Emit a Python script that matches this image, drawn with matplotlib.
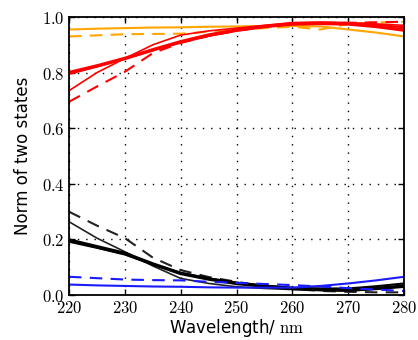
import matplotlib
matplotlib.use("Agg")
import matplotlib.pyplot as plt

wavelength = [220, 225, 230, 235, 240, 245, 250, 255, 260, 265, 270, 275, 280]

orange_solid  = [0.955, 0.958, 0.960, 0.962, 0.963, 0.965, 0.966, 0.968, 0.968, 0.966, 0.955, 0.944, 0.930]
orange_dashed = [0.930, 0.934, 0.938, 0.939, 0.940, 0.947, 0.955, 0.960, 0.965, 0.955, 0.975, 0.980, 0.983]
red_thick     = [0.800, 0.824, 0.851, 0.882, 0.911, 0.935, 0.953, 0.966, 0.975, 0.977, 0.975, 0.966, 0.953]
red_thick2    = [0.795, 0.822, 0.850, 0.880, 0.908, 0.932, 0.951, 0.965, 0.974, 0.978, 0.978, 0.972, 0.963]
red_thin      = [0.735, 0.800, 0.851, 0.900, 0.935, 0.950, 0.960, 0.970, 0.980, 0.982, 0.980, 0.975, 0.970]
red_dashed    = [0.695, 0.750, 0.803, 0.870, 0.907, 0.932, 0.950, 0.965, 0.975, 0.978, 0.979, 0.981, 0.983]
black_dashed  = [0.300, 0.250, 0.205, 0.135, 0.090, 0.065, 0.048, 0.032, 0.022, 0.015, 0.012, 0.010, 0.010]
black_thin    = [0.264, 0.205, 0.156, 0.105, 0.060, 0.042, 0.030, 0.024, 0.020, 0.017, 0.015, 0.022, 0.036]
black_thick   = [0.198, 0.174, 0.150, 0.112, 0.078, 0.058, 0.042, 0.032, 0.024, 0.020, 0.018, 0.024, 0.032]
black_thick2  = [0.192, 0.170, 0.146, 0.110, 0.080, 0.060, 0.045, 0.034, 0.026, 0.024, 0.024, 0.032, 0.042]
blue_solid    = [0.038, 0.035, 0.033, 0.031, 0.030, 0.028, 0.027, 0.027, 0.027, 0.033, 0.042, 0.053, 0.066]
blue_dashed   = [0.066, 0.061, 0.056, 0.054, 0.053, 0.048, 0.044, 0.040, 0.036, 0.031, 0.025, 0.020, 0.015]

x_ticks = [220, 230, 240, 250, 260, 270, 280]
y_ticks = [0.0, 0.2, 0.4, 0.6, 0.8, 1.0]

plt.rcParams['mathtext.fontset'] = 'cm'

fig = plt.figure(figsize=(4.18, 3.40), dpi=100)
ax = fig.add_axes([0.165, 0.132, 0.802, 0.818])

orange = '#ffa500'
red = '#ff0000'
blue = '#1a1aff'

ax.plot(wavelength, orange_solid, color=orange, lw=1.5)
ax.plot(wavelength, orange_dashed, color=orange, lw=1.5, ls=(0, (6, 4)))
ax.plot(wavelength, red_thick, color=red, lw=2.5)
ax.plot(wavelength, red_thick2, color=red, lw=1.5)
ax.plot(wavelength, red_thin, color=red, lw=1.2)
ax.plot(wavelength, red_dashed, color=red, lw=1.5, ls=(0, (6, 4)))
ax.plot(wavelength, black_dashed, color='#222222', lw=1.5, ls=(0, (6, 4)))
ax.plot(wavelength, black_thin, color='#222222', lw=1.2)
ax.plot(wavelength, black_thick, color='black', lw=2.5)
ax.plot(wavelength, black_thick2, color='black', lw=1.5)
ax.plot(wavelength, blue_solid, color=blue, lw=1.5)
ax.plot(wavelength, blue_dashed, color=blue, lw=1.5, ls=(0, (6, 4)))

ax.set_xlim(220, 280)
ax.set_ylim(0.0, 1.0)
ax.set_xticks(x_ticks)
ax.set_yticks(y_ticks)
ax.set_xticklabels([r'$%d$' % v for v in x_ticks], fontsize=12)
ax.set_yticklabels([r'$%.1f$' % v for v in y_ticks], fontsize=12)
ax.tick_params(direction='in', top=True, right=True, length=4, width=1, pad=3)
ax.grid(True, color='black', ls=(0, (1, 5)), lw=1)
for s in ax.spines.values():
    s.set_linewidth(1.3)

ax.set_xlabel(r'Wavelength/ $\mathrm{nm}$', fontsize=12, labelpad=0)
ax.set_ylabel('Norm of two states', fontsize=12, labelpad=7)

fig.savefig('out.png', dpi=100)
